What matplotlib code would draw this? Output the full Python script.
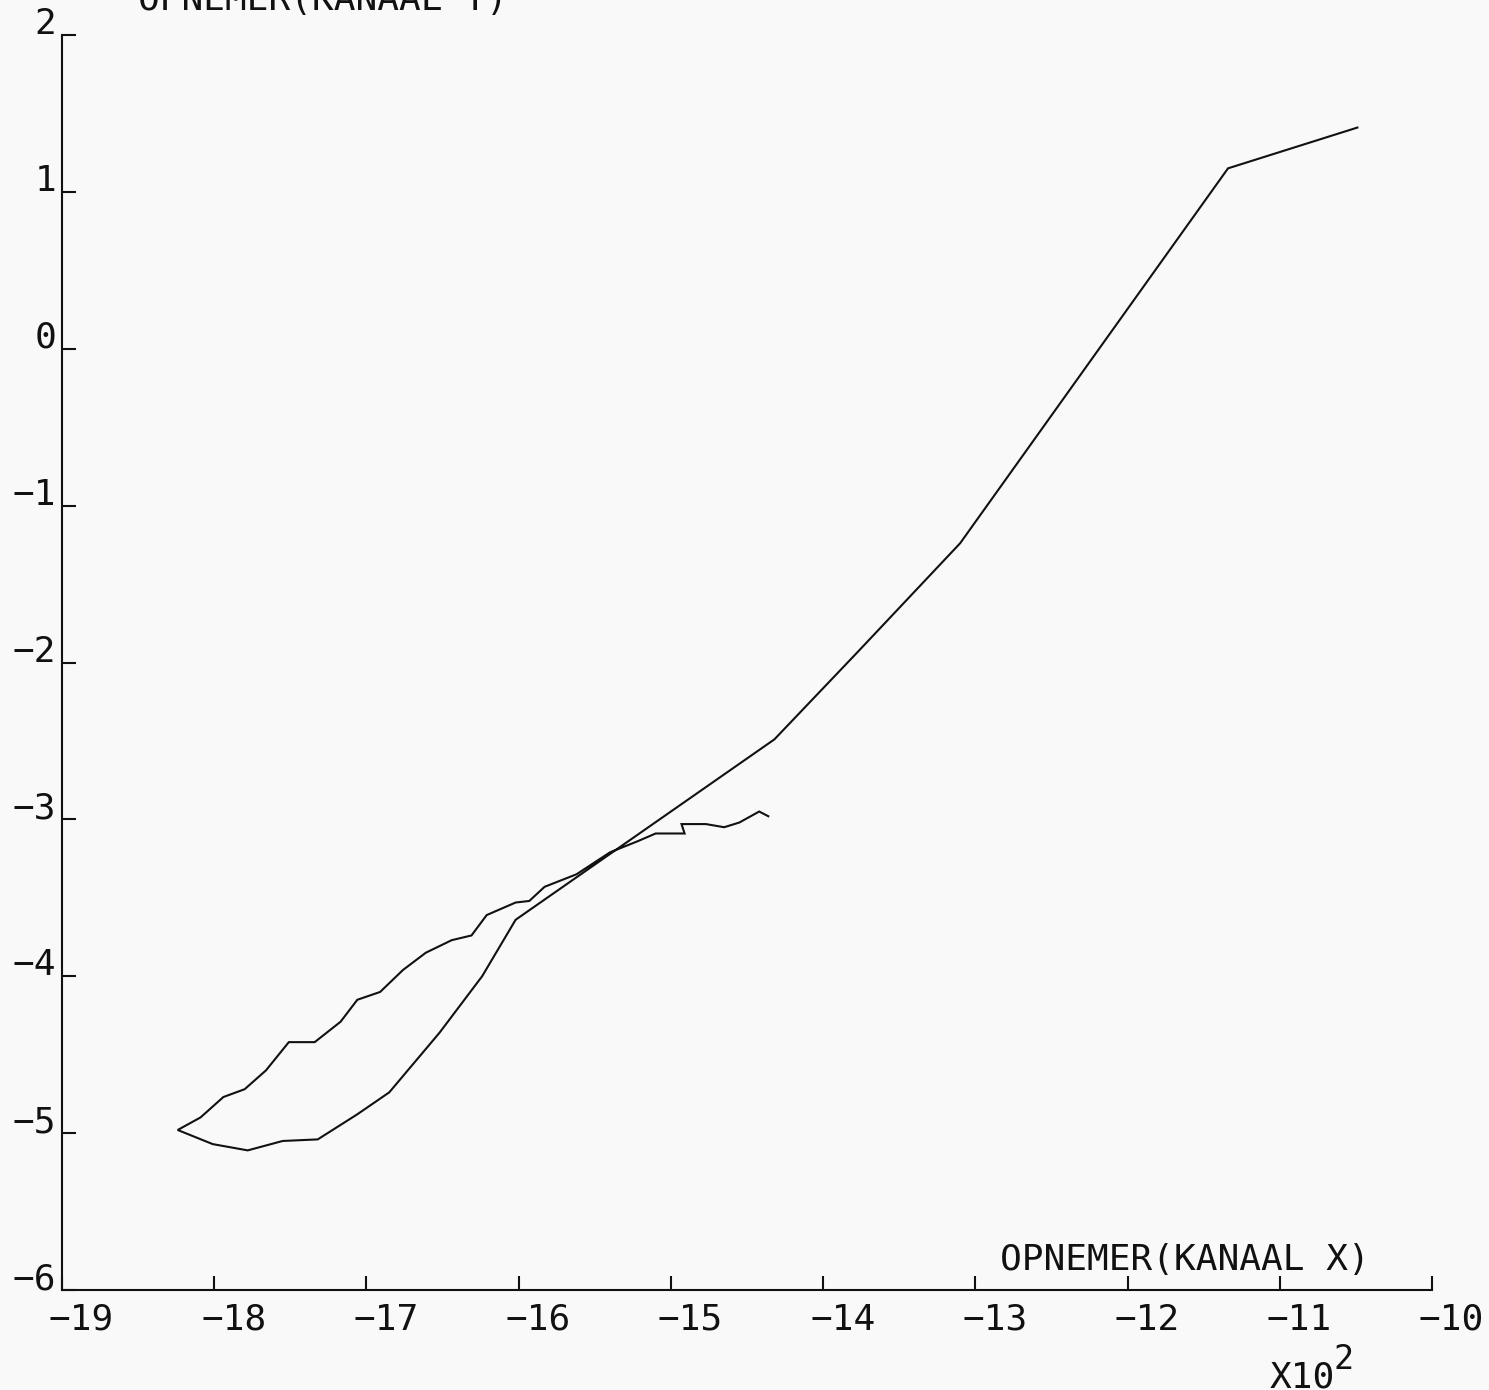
import matplotlib
matplotlib.use("Agg")
import matplotlib.pyplot as plt
from matplotlib.transforms import offset_copy

# curve, x in raw units (axis shows x10^2)
x_vals = [-1049, -1134, -1310, -1377, -1432, -1602, -1624, -1652, -1685, -1706,
          -1732, -1755, -1778, -1801, -1824,
          -1809, -1794, -1780, -1766, -1751, -1734, -1717, -1706, -1691, -1676,
          -1661, -1644, -1631, -1621, -1602, -1593, -1583, -1562, -1540, -1522,
          -1510, -1491, -1493, -1477, -1465, -1455, -1442, -1436]
y_vals = [1.41, 1.15, -1.24, -1.93, -2.49, -3.64, -4.00, -4.36, -4.74, -4.88,
          -5.04, -5.05, -5.11, -5.07, -4.98,
          -4.90, -4.77, -4.72, -4.60, -4.42, -4.42, -4.29, -4.15, -4.10, -3.96,
          -3.85, -3.77, -3.74, -3.61, -3.53, -3.52, -3.43, -3.35, -3.21, -3.14,
          -3.09, -3.09, -3.03, -3.03, -3.05, -3.02, -2.95, -2.98]

x_ticks = [-1900, -1800, -1700, -1600, -1500, -1400, -1300, -1200, -1100, -1000]
x_labels = ['\u221219', '\u221218', '\u221217', '\u221216', '\u221215',
            '\u221214', '\u221213', '\u221212', '\u221211', '\u221210']
y_ticks = [2, 1, 0, -1, -2, -3, -4, -5, -6]
y_labels = ['2', '1', '0', '\u22121', '\u22122', '\u22123', '\u22124', '\u22125', '\u22126']

W, H = 1489, 1390
plt.rcParams['font.family'] = ['DejaVu Sans Mono']
fs = 26
ink = '#111111'

fig = plt.figure(figsize=(W / 100, H / 100), dpi=100, facecolor='#f9f9f9')
ax = fig.add_axes([62 / W, 1 - 1290 / H, (1432 - 62) / W, (1290 - 35) / H])
ax.set_facecolor('#f9f9f9')

ax.plot(x_vals, y_vals, color=ink, linewidth=1.5, solid_joinstyle='miter')

ax.set_xlim(-1900, -1000)
ax.set_ylim(-6, 2)
for s in ['top', 'right']:
    ax.spines[s].set_visible(False)
for s in ['left', 'bottom']:
    ax.spines[s].set_linewidth(1.5)
    ax.spines[s].set_color(ink)

ax.set_xticks(x_ticks)
ax.set_yticks(y_ticks)
ax.set_xticklabels([])
ax.set_yticklabels([])
ax.tick_params(direction='in', length=10, width=1.5, color=ink)

xt = offset_copy(ax.get_xaxis_transform(), fig=fig, x=-13, y=-40, units='dots')
for xv, lab in zip(x_ticks, x_labels):
    ax.text(xv, 0, lab, transform=xt, ha='left', va='baseline', fontsize=fs,
            color=ink, clip_on=False)

yt = offset_copy(ax.get_yaxis_transform(), fig=fig, x=-6, y=1, units='dots')
for yv, lab in zip(y_ticks, y_labels):
    ax.text(0, yv, lab, transform=yt, ha='right', va='baseline', fontsize=fs,
            color=ink, clip_on=False)

# axis titles, plotter style
fig.text(138 / W, 1 - 10 / H, 'OPNEMER(KANAAL Y)', ha='left', va='baseline',
         fontsize=fs, color=ink)
fig.text(1000 / W, 1 - 1270 / H, 'OPNEMER(KANAAL X)', ha='left', va='baseline',
         fontsize=fs, color=ink)
fig.text(1270 / W, 1 - 1387 / H, 'X10', ha='left', va='baseline',
         fontsize=fs, color=ink)
fig.text(1334 / W, 1 - 1369 / H, '2', ha='left', va='baseline',
         fontsize=fs - 2, color=ink)

fig.savefig('out.png', dpi=100, facecolor=fig.get_facecolor())
